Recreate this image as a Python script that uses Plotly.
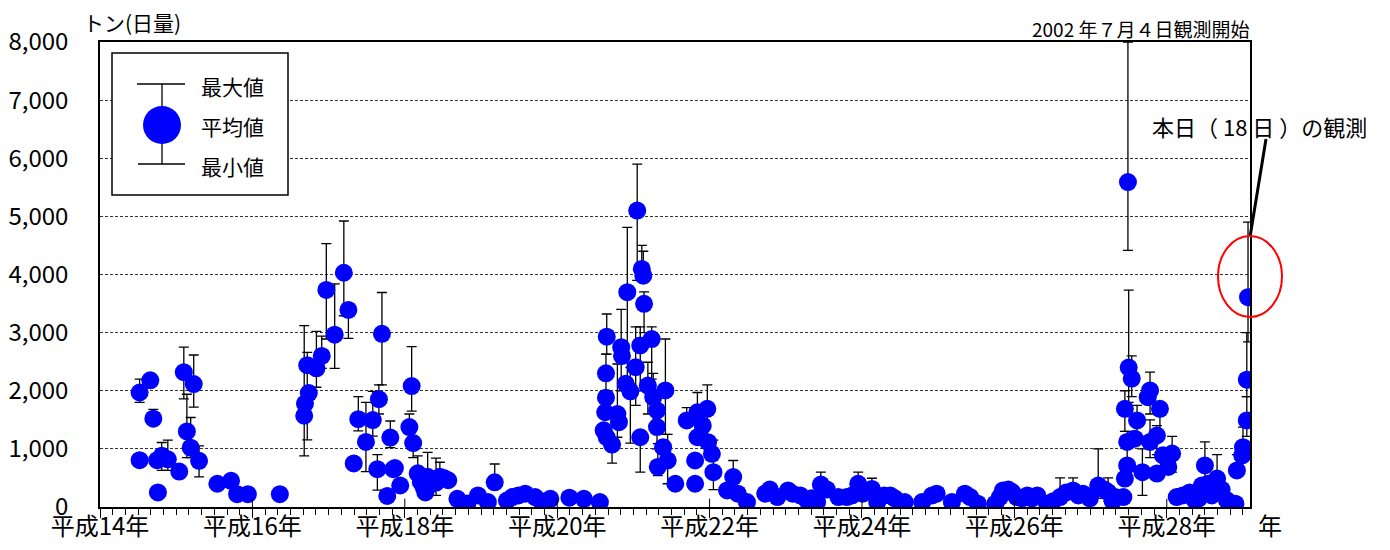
import plotly.graph_objects as go

# Observation dates (decimal years), daily mean / max / min emission (tons/day)
dates = [
    2002.52, 2002.66, 2002.52, 2002.70, 2002.76, 2002.75, 2002.81, 2002.89, 2003.04, 2003.10,
    2003.23, 2003.14, 2003.19, 2003.30, 2003.54, 2003.72, 2003.80, 2003.94, 2004.36,
    2004.68, 2004.69, 2004.74, 2004.72, 2004.84, 2004.91, 2004.97, 2005.08, 2005.20, 2005.26,
    2005.33, 2005.39, 2005.49, 2005.58, 2005.66, 2005.70, 2005.81, 2005.64, 2005.77, 2005.85,
    2006.09, 2006.06, 2006.11, 2005.87, 2005.94,
    2006.17, 2006.21, 2006.25, 2006.30, 2006.36, 2006.41, 2006.46, 2006.51, 2006.57, 2006.27, 2006.33,
    2006.69, 2006.82, 2006.96, 2007.09, 2007.18, 2007.34, 2007.41, 2007.49, 2007.58, 2007.71,
    2007.79, 2007.91, 2008.16, 2008.35, 2008.56,
    2008.65, 2008.64, 2008.64, 2008.63, 2008.61, 2008.65, 2008.72, 2008.79, 2008.81, 2008.84,
    2008.85, 2008.92, 2008.90, 2008.96, 2009.03, 2009.09, 2009.05, 2009.11, 2009.13, 2009.14,
    2009.09, 2009.24, 2009.19, 2009.26, 2009.31, 2009.31, 2009.42, 2009.32, 2009.39, 2009.45,
    2009.55, 2009.70, 2009.84, 2009.84, 2009.81, 2009.81, 2009.91, 2009.97, 2009.98, 2010.03,
    2010.05, 2010.31, 2010.23, 2010.37, 2010.49,
    2010.73, 2010.79, 2010.89, 2011.03, 2011.09, 2011.19, 2011.28, 2011.34, 2011.41, 2011.46,
    2011.54, 2011.69, 2011.80, 2011.87, 2011.95, 2012.01, 2012.13, 2012.20, 2012.29, 2012.37,
    2012.43, 2012.56, 2012.79, 2012.92, 2012.98, 2013.18, 2013.35, 2013.42, 2013.52, 2013.75,
    2013.81, 2013.85, 2013.92, 2013.97, 2014.03, 2014.10, 2014.17, 2014.23, 2014.30, 2014.43,
    2014.51, 2014.60, 2014.68, 2014.77, 2014.84, 2014.90, 2014.99, 2015.10, 2015.18, 2015.23,
    2015.29, 2015.32,
    2015.49, 2015.50, 2015.54, 2015.45, 2015.61, 2015.48, 2015.58, 2015.48, 2015.45, 2015.43,
    2015.68, 2015.78, 2015.75, 2015.91, 2015.87, 2015.78, 2015.95, 2016.07, 2016.02, 2015.87,
    2016.13, 2016.21, 2016.30, 2016.37, 2016.42, 2016.50, 2016.46, 2016.54, 2016.66, 2016.59,
    2016.72, 2016.79, 2016.90, 2016.92, 2016.99, 2017.00, 2017.05, 2017.05, 2017.066,
]
mean_vals = [
    1970, 2180, 805, 1520, 250, 805, 880, 820, 610, 2320,
    2115, 1300, 1020, 795, 400, 450, 220, 220, 220,
    1570, 1780, 1960, 2440, 2385, 2600, 3735, 2965, 4030, 3390,
    750, 1510, 1120, 1495, 1855, 2980, 1195, 650, 190, 650,
    2080, 1375, 1100, 670, 370,
    580, 430, 330, 520, 470, 420, 520, 500, 460, 250, 380,
    140, 60, 200, 85, 425, 110, 170, 200, 230, 170,
    100, 140, 160, 140, 85,
    2930, 2300, 1880, 1630, 1320, 1200, 1075, 1600, 1460, 2750,
    2600, 3695, 2120, 1990, 2405, 1200, 5100, 4095, 3980, 3495,
    2780, 2890, 2090, 1890, 1660, 1375, 2005, 690, 1030, 800,
    400, 1490, 1630, 1200, 800, 400, 1400, 1690, 1115, 915,
    600, 515, 285, 230, 85,
    230, 300, 170, 285, 230, 200, 115, 150, 85, 385,
    300, 170, 170, 200, 400, 230, 310, 85, 200, 200,
    150, 85, 85, 200, 230, 85, 230, 170, 57, 57,
    170, 285, 300, 255, 170, 150, 200, 150, 200, 57,
    100, 170, 250, 285, 200, 230, 150, 370, 300, 255,
    100, 170,
    5590, 2400, 2210, 1690, 1490, 1120, 1175, 715, 490, 170,
    600, 2005, 1890, 1690, 1230, 1120, 890, 920, 690, 575,
    170, 200, 250, 115, 150, 715, 370, 400, 490, 200,
    300, 115, 57, 630, 890, 1030, 1490, 2190, 3610,
]
max_vals = [
    2200, 2180, 805, 1680, 250, 805, 1110, 1150, 610, 2750,
    2615, 1940, 1540, 1050, 400, 560, 220, 220, 220,
    3120, 1780, 1960, 2660, 3020, 2940, 4530, 3840, 4920, 3390,
    750, 1900, 1800, 1990, 2100, 3690, 1480, 900, 190, 650,
    2760, 1600, 1100, 670, 370,
    880, 430, 420, 940, 470, 840, 770, 500, 460, 250, 380,
    140, 60, 200, 85, 740, 110, 170, 200, 230, 170,
    100, 140, 160, 140, 85,
    3320, 2630, 1880, 1630, 1320, 1200, 1075, 2460, 1460, 3400,
    2600, 4810, 2120, 2400, 3100, 1200, 5900, 4500, 4400, 3700,
    3100, 3100, 2490, 2300, 1660, 1900, 2890, 1090, 1030, 1250,
    400, 1710, 1970, 1200, 800, 400, 1400, 2100, 1115, 915,
    1150, 800, 285, 230, 85,
    230, 300, 170, 285, 230, 200, 115, 150, 85, 600,
    300, 170, 170, 200, 600, 230, 495, 85, 200, 200,
    150, 85, 85, 200, 230, 85, 230, 170, 57, 57,
    170, 285, 300, 255, 170, 150, 200, 150, 200, 57,
    100, 500, 250, 500, 200, 230, 150, 1000, 300, 500,
    100, 170,
    8000, 3730, 2600, 2000, 1750, 1300, 1175, 715, 490, 170,
    1000, 2320, 1890, 1800, 1400, 1500, 890, 1215, 690, 575,
    170, 200, 250, 115, 150, 1120, 370, 400, 900, 200,
    300, 115, 57, 900, 890, 1375, 1900, 3000, 4900,
]
min_vals = [
    1800, 2180, 805, 1520, 250, 805, 630, 630, 610, 1860,
    1720, 850, 850, 517, 400, 400, 220, 220, 220,
    880, 1780, 1960, 1155, 2060, 2385, 2890, 2385, 3290, 2900,
    750, 1310, 610, 1220, 1600, 2100, 1020, 290, 190, 650,
    1650, 1100, 850, 670, 370,
    370, 430, 170, 230, 470, 200, 380, 500, 460, 250, 380,
    140, 60, 200, 85, 425, 110, 170, 200, 230, 170,
    100, 140, 160, 140, 85,
    2630, 1900, 1880, 1630, 1320, 1200, 755, 1200, 1460, 2000,
    2600, 2000, 2120, 1100, 1750, 600, 3900, 3900, 3870, 3000,
    2000, 2200, 1600, 1400, 1660, 1000, 1250, 540, 1030, 400,
    400, 1490, 1300, 1200, 800, 400, 1400, 1190, 1115, 915,
    300, 300, 285, 230, 85,
    230, 300, 170, 285, 230, 200, 115, 150, 85, 200,
    300, 170, 170, 200, 230, 230, 170, 85, 200, 200,
    150, 85, 85, 200, 230, 85, 230, 170, 57, 57,
    170, 285, 300, 255, 170, 150, 200, 150, 200, 57,
    100, 100, 250, 200, 200, 230, 150, 150, 300, 100,
    100, 170,
    4415, 1800, 1900, 1300, 1100, 800, 1175, 715, 490, 170,
    200, 1600, 1890, 1200, 900, 850, 890, 600, 690, 575,
    170, 200, 250, 115, 150, 300, 370, 400, 200, 200,
    300, 115, 57, 600, 890, 900, 1215, 1900, 2840,
]

tick_years = [2002, 2004, 2006, 2008, 2010, 2012, 2014, 2016]
tick_labels = ["平成14年", "平成16年", "平成18年", "平成20年", "平成22年", "平成24年", "平成26年", "平成28年"]
y_ticks = [0, 1000, 2000, 3000, 4000, 5000, 6000, 7000, 8000]

FONT = "Noto Sans CJK JP, Noto Sans, sans-serif"

fig = go.Figure()
fig.add_trace(go.Scatter(
    x=dates, y=mean_vals, mode="markers",
    marker=dict(size=18, color="#0000FF", line=dict(width=0)),
    error_y=dict(
        type="data", symmetric=False,
        array=[mx - m for mx, m in zip(max_vals, mean_vals)],
        arrayminus=[m - mn for m, mn in zip(mean_vals, min_vals)],
        color="black", thickness=1.3, width=5,
    ),
    showlegend=False, hoverinfo="skip",
))

# page has an 8px body margin; plot area target in page pixels: 100..1250 x 42..507
OFF = 8
W, H = 1390 - 2 * OFF, 550 - 2 * OFF
L, R, T, B = 100, 1250, 42, 507
def px(x):
    return (x - L) / (R - L)
def py(y):
    return (B - y) / (B - T)

shapes = []
for ty in tick_years[1:]:
    shapes.append(dict(type="line", xref="x", yref="paper", x0=ty, x1=ty, y0=0, y1=0.018,
                       line=dict(color="black", width=1)))
shapes.append(dict(type="rect", xref="paper", yref="paper", x0=px(112), x1=px(288), y0=py(195), y1=py(53),
                   line=dict(color="black", width=1.5), fillcolor="white", layer="above"))
shapes.append(dict(type="line", xref="paper", yref="paper", x0=px(162), x1=px(162), y0=py(84), y1=py(164),
                   line=dict(color="black", width=1.3), layer="above"))
shapes.append(dict(type="line", xref="paper", yref="paper", x0=px(137), x1=px(185), y0=py(84), y1=py(84),
                   line=dict(color="black", width=1.3), layer="above"))
shapes.append(dict(type="line", xref="paper", yref="paper", x0=px(138), x1=px(185), y0=py(164), y1=py(164),
                   line=dict(color="black", width=1.3), layer="above"))
shapes.append(dict(type="circle", xref="paper", yref="paper", x0=px(143), x1=px(181), y0=py(144), y1=py(106),
                   line=dict(width=0), fillcolor="#0000FF", layer="above"))
shapes.append(dict(type="line", xref="paper", yref="paper", x0=px(1266), x1=px(1250), y0=py(139), y1=py(237),
                   line=dict(color="black", width=3), layer="above"))
shapes.append(dict(type="circle", xref="paper", yref="paper", x0=px(1218), x1=px(1282), y0=py(317), y1=py(236),
                   line=dict(color="red", width=2), layer="above"))

annotations = [
    dict(text="トン(日量)", xref="paper", yref="paper", x=px(81), y=py(22), xanchor="left", yanchor="middle",
         showarrow=False, font=dict(size=21, color="black", family=FONT)),
    dict(text="2002 年７月４日観測開始", xref="paper", yref="paper", x=px(1251), y=py(29), xanchor="right",
         yanchor="middle", showarrow=False, font=dict(size=19, color="black", family=FONT)),
    dict(text="本日（ 18 日 ）の観測", xref="paper", yref="paper", x=px(1150), y=py(126), xanchor="left",
         yanchor="middle", showarrow=False, font=dict(size=22, color="black", family=FONT)),
    dict(text="年", xref="paper", yref="paper", x=px(1270), y=py(524), xanchor="center",
         yanchor="middle", showarrow=False, font=dict(size=24, color="black", family=FONT)),
    dict(text="最大値", xref="paper", yref="paper", x=px(199), y=py(86), xanchor="left",
         yanchor="middle", showarrow=False, font=dict(size=21, color="black", family=FONT)),
    dict(text="平均値", xref="paper", yref="paper", x=px(199), y=py(126), xanchor="left",
         yanchor="middle", showarrow=False, font=dict(size=21, color="black", family=FONT)),
    dict(text="最小値", xref="paper", yref="paper", x=px(199), y=py(166), xanchor="left",
         yanchor="middle", showarrow=False, font=dict(size=21, color="black", family=FONT)),
]

fig.update_layout(
    width=W, height=H,
    margin=dict(l=L - OFF, r=W - (R - OFF), t=T - OFF, b=H - (B - OFF), pad=0, autoexpand=False),
    paper_bgcolor="white", plot_bgcolor="white",
    font=dict(family=FONT, color="black"),
    shapes=shapes, annotations=annotations,
    xaxis=dict(
        range=[2002, 2017.092], tickmode="array", tickvals=tick_years, ticktext=tick_labels,
        ticks="outside", ticklen=9, tickwidth=1, tickcolor="black", automargin=False,
        ticklabelstandoff=-12,
        minor=dict(tick0=2002, dtick=1/6, ticks="outside", ticklen=6, tickwidth=1, tickcolor="black", showgrid=False),
        showgrid=False, zeroline=False, showline=True, linecolor="black", linewidth=1.5, mirror=True,
        tickfont=dict(size=24, color="black", family=FONT),
    ),
    yaxis=dict(
        range=[0, 8000], tickmode="array", tickvals=y_ticks, tickformat=",d",
        ticks="", ticklabelstandoff=25, automargin=False,
        showgrid=True, gridcolor="#333333", griddash="3px,2px", gridwidth=1,
        zeroline=False, showline=True, linecolor="black", linewidth=1.5, mirror=True,
        tickfont=dict(size=24, color="black", family=FONT),
    ),
)

fig.write_html("out.html")
